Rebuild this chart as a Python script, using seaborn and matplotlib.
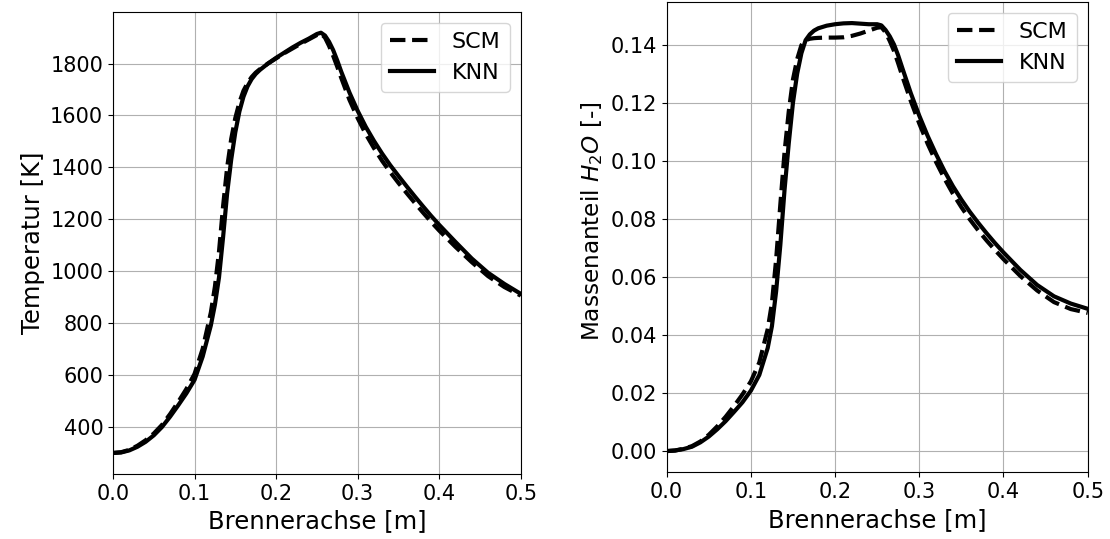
import numpy as np
import pandas as pd
import matplotlib
matplotlib.use("Agg")
import matplotlib.pyplot as plt
import matplotlib.ticker as mticker
import seaborn as sns

# ---------------- data ----------------
x_pos = [0.0, 0.01, 0.02, 0.03, 0.04, 0.05, 0.06, 0.07, 0.08, 0.09, 0.10, 0.11,
         0.12, 0.125, 0.13, 0.135, 0.14, 0.145, 0.15, 0.155, 0.16, 0.165, 0.17, 0.175, 0.18,
         0.19, 0.20, 0.21, 0.22, 0.23, 0.24, 0.25, 0.255, 0.26, 0.265, 0.27, 0.275, 0.28,
         0.29, 0.30, 0.31, 0.32, 0.33, 0.34, 0.35, 0.36, 0.37, 0.38, 0.39, 0.40,
         0.42, 0.44, 0.46, 0.48, 0.50]

temp_knn = [298, 300, 308, 322, 341, 366, 398, 438, 482, 528, 580, 670,
            790, 870, 975, 1130, 1300, 1430, 1535, 1615, 1672, 1712, 1740, 1760, 1775,
            1800, 1822, 1842, 1862, 1880, 1896, 1914, 1919, 1908, 1884, 1852, 1812, 1768,
            1688, 1618, 1556, 1502, 1453, 1408, 1367, 1327, 1288, 1250, 1213, 1178,
            1112, 1048, 993, 950, 912]

temp_scm = [298, 301, 310, 326, 347, 373, 406, 448, 495, 545, 603, 700,
            840, 940, 1075, 1250, 1400, 1510, 1590, 1650, 1695, 1725, 1748, 1765, 1778,
            1800, 1820, 1840, 1858, 1876, 1893, 1910, 1916, 1900, 1868, 1830, 1788, 1744,
            1660, 1590, 1528, 1474, 1425, 1381, 1340, 1301, 1263, 1226, 1190, 1156,
            1093, 1034, 980, 938, 905]

h2o_knn = [0.0, 0.0002, 0.0007, 0.0015, 0.003, 0.005, 0.0075, 0.0103, 0.0135, 0.0168, 0.0208, 0.0262,
           0.0355, 0.043, 0.055, 0.071, 0.090, 0.106, 0.120, 0.130, 0.137, 0.1415, 0.1435, 0.1448, 0.1456,
           0.1465, 0.147, 0.1473, 0.1474, 0.1472, 0.147, 0.147, 0.1466, 0.1450, 0.1428, 0.1400, 0.1362, 0.1318,
           0.1232, 0.1155, 0.1085, 0.1022, 0.0964, 0.0912, 0.0866, 0.0824, 0.0786, 0.0750, 0.0716, 0.0684,
           0.0624, 0.0572, 0.0533, 0.0508, 0.0490]

h2o_scm = [0.0, 0.0002, 0.0008, 0.0017, 0.0033, 0.0056, 0.0085, 0.0118, 0.0155, 0.0195, 0.0240, 0.0305,
           0.042, 0.051, 0.066, 0.085, 0.103, 0.117, 0.128, 0.135, 0.1398, 0.1415, 0.142, 0.1422, 0.1423,
           0.1424, 0.1424, 0.1425, 0.143, 0.1438, 0.1448, 0.1458, 0.146, 0.1442, 0.1412, 0.1378, 0.1335, 0.1290,
           0.1205, 0.1128, 0.1058, 0.0995, 0.0938, 0.0886, 0.0840, 0.0798, 0.0760, 0.0725, 0.0692, 0.0661,
           0.0603, 0.0553, 0.0513, 0.0489, 0.0476]

series_labels = ["SCM", "KNN"]
x_label = "Brennerachse [m]"
y_labels = ["Temperatur [K]", "Massenanteil $H_2O$ [-]"]
x_ticks = [0.0, 0.1, 0.2, 0.3, 0.4, 0.5]
temp_ticks = [400, 600, 800, 1000, 1200, 1400, 1600, 1800]
h2o_ticks = [0.0, 0.02, 0.04, 0.06, 0.08, 0.10, 0.12, 0.14]

# ---------------- figure ----------------
fig = plt.figure(figsize=(11.1, 5.39), dpi=100)
ax1 = fig.add_axes([0.1018, 0.1206, 0.3673, 0.8577])
ax2 = fig.add_axes([0.6006, 0.1234, 0.3793, 0.8735])

FS_TICK = 15
FS_LAB = 17.5
FS_LEG = 16
LW = 3

for ax, scm, knn, ylab in [(ax1, temp_scm, temp_knn, y_labels[0]),
                           (ax2, h2o_scm, h2o_knn, y_labels[1])]:
    sns.lineplot(x=x_pos, y=scm, ax=ax, color="black", linestyle="--",
                 linewidth=LW, label=series_labels[0])
    sns.lineplot(x=x_pos, y=knn, ax=ax, color="black", linestyle="-",
                 linewidth=LW, label=series_labels[1])
    ax.set_xlim(0, 0.5)
    ax.set_xticks(x_ticks)
    ax.grid(True, color="#b0b0b0", linewidth=0.8)
    ax.set_axisbelow(True)
    ax.tick_params(labelsize=FS_TICK)
    ax.set_xlabel(x_label, fontsize=FS_LAB)
    ax.set_ylabel(ylab, fontsize=FS_LAB)
    ax.legend(loc="upper right", fontsize=FS_LEG)

ax1.set_yticks(temp_ticks)
ax2.set_yticks(h2o_ticks)
ax2.yaxis.set_major_formatter(mticker.FormatStrFormatter("%.2f"))
ax2.yaxis.label.set_fontsize(16.7)
ax2.yaxis.label.set_y(0.534)

fig.savefig("out.png", dpi=100)
